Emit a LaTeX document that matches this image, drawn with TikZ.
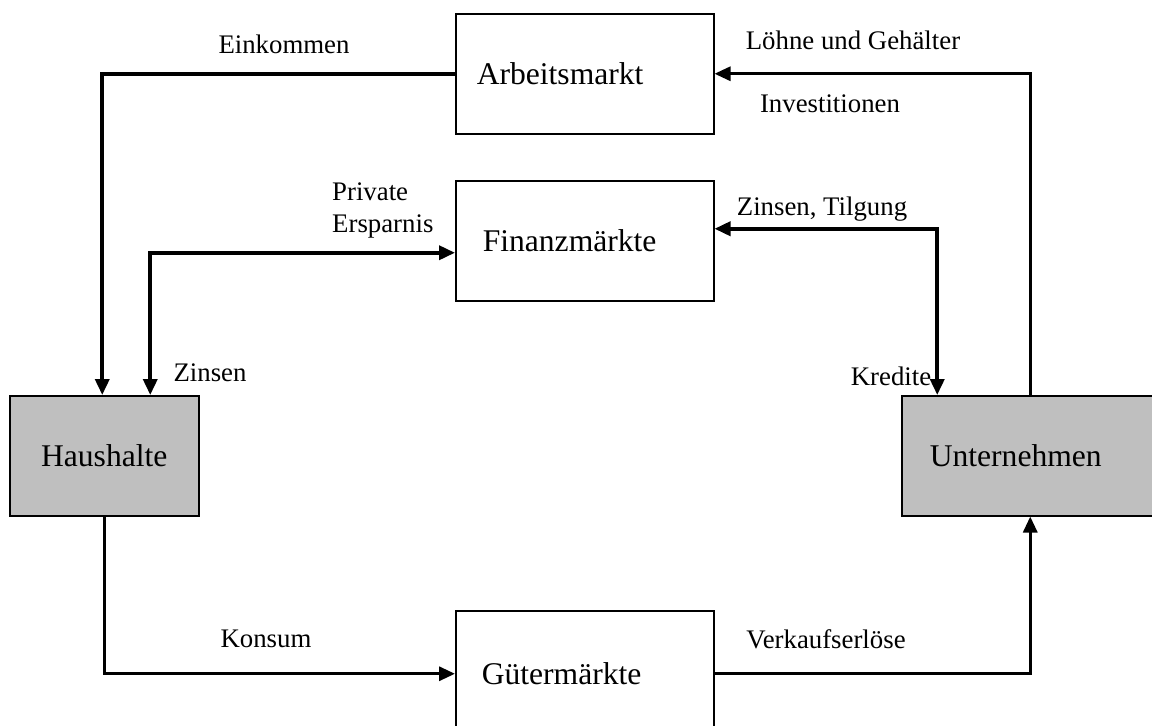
\documentclass[tikz,border=0pt]{standalone}
\usepackage{fontspec}
\setmainfont{Liberation Serif}
\usetikzlibrary{arrows.meta,calc}
\begin{document}
\begin{tikzpicture}[x=1pt,y=-1pt,
  box/.style={draw=black,line width=1.5pt,anchor=north west,inner ysep=0pt,
    font=\fontsize{31.6}{36}\selectfont,align=left},
  agent/.style={box,fill=black!25},
  lbl/.style={inner sep=0pt,font=\fontsize{26.8}{32}\selectfont},
  flow/.style={line width=3.6pt,line join=miter},
  tip/.style={-{Triangle[length=16pt,width=14pt]}},
  dtip/.style={{Triangle[length=16pt,width=14pt]}-{Triangle[length=16pt,width=14pt]}}]
\clip (0,0) rectangle (1152,726);
\fill[white] (0,0) rectangle (1152,726);
% boxes
\node[box,minimum width=258pt,minimum height=120pt,inner xsep=21pt,text width=216pt] (arb) at (455,13) {Arbeitsmarkt};
\node[box,minimum width=258pt,minimum height=120pt,inner xsep=27pt,text width=204pt] (fin) at (455,180) {Finanzmärkte};
\node[box,minimum width=258pt,minimum height=126pt,inner xsep=26pt,text width=206pt] (gm) at (455,610) {Gütermärkte};
\node[agent,minimum width=189pt,minimum height=120pt,inner xsep=0pt,align=center] (hh) at (9,395) {Haushalte};
\node[agent,minimum width=259pt,minimum height=120pt,inner xsep=28pt,text width=203pt] (un) at (901,395) {Unternehmen};
% connectors
\draw[flow,tip] (arb.west) -| ([xshift=-2pt]hh.north);
\draw[flow,dtip] ([xshift=46pt]hh.north) |- ($(fin.west)+(0,12)$);
\draw[flow,tip,line width=3pt] ([xshift=-1pt]un.north) |- (arb.east);
\draw[flow,dtip] ([xshift=-94pt]un.north) |- ($(fin.east)+(0,-12)$);
\draw[flow,tip,line width=3.2pt] (hh.south) |- (gm.west);
\draw[flow,tip,line width=3.2pt] (gm.east) -| ([xshift=-1pt]un.south);
% labels
\node[lbl] (l1) at (284,44) {Einkommen};
\node[lbl] (l2) at (853,40) {Löhne und Gehälter};
\node[lbl] (l3) at (830,104) {Investitionen};
\node[lbl,anchor=west,align=left] (l4) at (332,210) {Private\\Ersparnis};
\node[lbl] (l5) at (822,209) {Zinsen, Tilgung};
\node[lbl] (l6) at (210,373) {Zinsen};
\node[lbl] (l7) at (891,376) {Kredite};
\node[lbl] (l8) at (266,639) {Konsum};
\node[lbl] (l9) at (826,639) {Verkaufserlöse};
\end{tikzpicture}
\end{document}
